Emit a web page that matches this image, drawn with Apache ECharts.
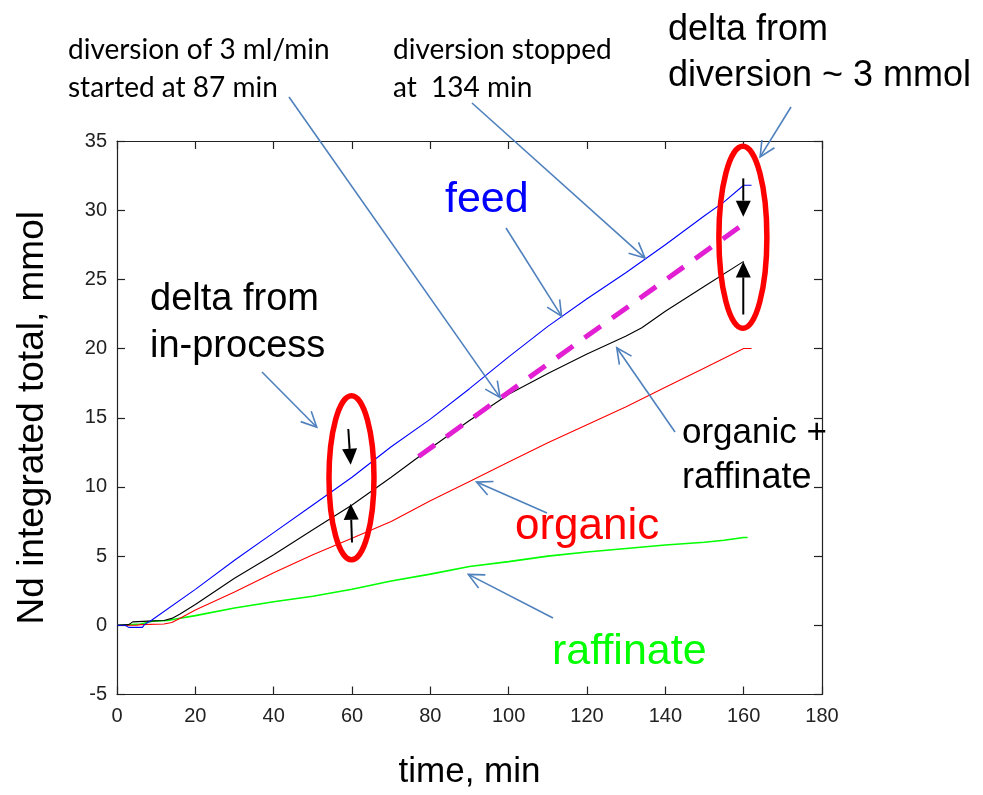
<!DOCTYPE html>
<html>
<head>
<meta charset="utf-8">
<script src="https://cdn.jsdelivr.net/npm/echarts@6/dist/echarts.min.js"></script>
<style>
  html, body { margin: 0; padding: 0; background: #fff; }
  #chart { width: 983px; height: 795px; }
</style>
</head>
<body>
<div id="chart"></div>
<script>
// Nd integrated totals (mmol) versus time (min)
const feedTime  = [0, 2, 3, 6.5, 7, 9, 20, 30, 40, 50, 60, 70, 80, 90, 100, 110, 120, 130, 140, 150, 155, 160, 162];
const feedValue = [0, 0, -0.15, -0.15, 0.05, 0.4, 2.6, 4.7, 6.7, 8.7, 10.7, 12.9, 14.9, 17.1, 19.4, 21.6, 23.6, 25.5, 27.5, 29.6, 30.6, 31.8, 31.8];

const sumTime  = [0, 3, 4, 8, 12, 14, 16, 20, 30, 40, 50, 60, 70, 80, 87, 90, 100, 110, 120, 130, 134, 140, 150, 160];
const sumValue = [0, 0.05, 0.25, 0.3, 0.35, 0.5, 0.8, 1.5, 3.4, 5.1, 6.9, 8.7, 10.7, 12.8, 14.2, 14.8, 16.7, 18.2, 19.6, 20.9, 21.5, 22.7, 24.5, 26.3];

const organicTime  = [0, 5, 6, 12, 14, 16, 20, 30, 40, 50, 60, 70, 80, 90, 100, 110, 120, 130, 140, 150, 160, 162];
const organicValue = [0, 0, 0.05, 0.1, 0.2, 0.5, 1.1, 2.4, 3.8, 5.1, 6.3, 7.5, 9.0, 10.4, 11.8, 13.2, 14.5, 15.8, 17.2, 18.6, 20.0, 20.0];

const raffTime  = [0, 6, 9, 13, 15, 20, 30, 40, 50, 60, 70, 80, 90, 100, 110, 120, 130, 140, 150, 155, 160, 161];
const raffValue = [0, 0.1, 0.3, 0.35, 0.45, 0.7, 1.25, 1.7, 2.1, 2.6, 3.2, 3.7, 4.25, 4.6, 5.0, 5.3, 5.55, 5.8, 6.0, 6.15, 6.35, 6.35];

// expected organic + raffinate without the diversion
const expectTime  = [77, 160];
const expectValue = [12.2, 29.0];

const xTicks = { min: 0, max: 180, interval: 20 };
const yTicks = { min: -5, max: 35, interval: 5 };

const pairs = (xs, ys) => xs.map((x, i) => [x, ys[i]]);

const chart = echarts.init(document.getElementById('chart'), null, { renderer: 'canvas' });

const axisLine = { show: true, onZero: false, lineStyle: { color: '#222', width: 1.2 } };
const tickStyle = { show: true, inside: true, length: 8, lineStyle: { color: '#222', width: 1.2 } };
const tickFont = { fontFamily: 'Liberation Sans', fontSize: 20, color: '#222' };

const lineSeries = (name, xs, ys, color, width) => ({
  name, type: 'line', xAxisIndex: 0, yAxisIndex: 0,
  data: pairs(xs, ys), showSymbol: false, symbol: 'none', smooth: false,
  lineStyle: { color, width }, z: 3, animation: false
});

chart.setOption({
  animation: false,
  backgroundColor: '#fff',
  grid: { left: 117, top: 141, right: 161, bottom: 98, containLabel: false },
  xAxis: [
    { type: 'value', position: 'bottom', min: xTicks.min, max: xTicks.max, interval: xTicks.interval,
      axisLine, axisTick: tickStyle, splitLine: { show: false },
      axisLabel: Object.assign({ margin: 12 }, tickFont),
      name: 'time, min', nameLocation: 'middle', nameGap: 78,
      nameTextStyle: { fontFamily: 'Liberation Sans', fontSize: 35, color: '#000', verticalAlign: 'middle' } },
    { type: 'value', position: 'top', min: xTicks.min, max: xTicks.max, interval: xTicks.interval,
      axisLine, axisTick: tickStyle, axisLabel: { show: false }, splitLine: { show: false } }
  ],
  yAxis: [
    { type: 'value', position: 'left', min: yTicks.min, max: yTicks.max, interval: yTicks.interval,
      axisLine, axisTick: tickStyle, splitLine: { show: false },
      axisLabel: Object.assign({ margin: 10 }, tickFont),
      name: 'Nd integrated total, mmol', nameLocation: 'middle', nameGap: 84, nameRotate: 90,
      nameTextStyle: { fontFamily: 'Liberation Sans', fontSize: 37, color: '#000', verticalAlign: 'middle' } },
    { type: 'value', position: 'right', min: yTicks.min, max: yTicks.max, interval: yTicks.interval,
      axisLine, axisTick: tickStyle, axisLabel: { show: false }, splitLine: { show: false } }
  ],
  series: [
    lineSeries('raffinate', raffTime, raffValue, '#00ff00', 1.6),
    lineSeries('organic', organicTime, organicValue, '#ff0000', 1.1),
    lineSeries('organic + raffinate', sumTime, sumValue, '#000000', 1.1),
    lineSeries('feed', feedTime, feedValue, '#0000ff', 1.1),
    {
      name: 'expected', type: 'line', xAxisIndex: 0, yAxisIndex: 0,
      data: pairs(expectTime, expectValue), showSymbol: false, symbol: 'none',
      lineStyle: { color: '#e21fd2', width: 5, type: [20, 14] }, z: 4, animation: false
    }
  ]
});

// ---- annotations: callout arrows, ellipses and text ----
const px = (t, v) => chart.convertToPixel({ xAxisIndex: 0, yAxisIndex: 0 }, [t, v]);
const calloutColor = '#4f81bd';
const g = [];

function openArrow(start, tip) {
  const dx = tip[0] - start[0], dy = tip[1] - start[1];
  const a = Math.atan2(dy, dx), L = 17, spread = 0.45;
  const w1 = [tip[0] - L * Math.cos(a - spread), tip[1] - L * Math.sin(a - spread)];
  const w2 = [tip[0] - L * Math.cos(a + spread), tip[1] - L * Math.sin(a + spread)];
  const st = { stroke: calloutColor, lineWidth: 1.6, fill: null };
  g.push({ type: 'line', shape: { x1: start[0], y1: start[1], x2: tip[0], y2: tip[1] }, style: st, z: 20 });
  g.push({ type: 'polyline', shape: { points: [w1, tip, w2] }, style: st, z: 20 });
}

function solidArrow(from, tip) {
  const dx = tip[0] - from[0], dy = tip[1] - from[1];
  const a = Math.atan2(dy, dx), L = 16, hw = 7.5;
  const base = [tip[0] - L * Math.cos(a), tip[1] - L * Math.sin(a)];
  const nx = -Math.sin(a), ny = Math.cos(a);
  g.push({ type: 'line', shape: { x1: from[0], y1: from[1], x2: base[0], y2: base[1] },
    style: { stroke: '#000', lineWidth: 2 }, z: 22 });
  g.push({ type: 'polygon', shape: { points: [tip, [base[0] + nx * hw, base[1] + ny * hw], [base[0] - nx * hw, base[1] - ny * hw]] },
    style: { fill: '#000' }, z: 22 });
}

function ring(t, v, rx, ry) {
  const c = px(t, v);
  g.push({ type: 'ellipse', shape: { cx: c[0], cy: c[1], rx, ry },
    style: { stroke: '#ff0000', lineWidth: 5.5, fill: null }, z: 21 });
}

function label(text, x, y, size, color, family) {
  g.push({ type: 'text', x, y, z: 25,
    style: { text, fill: color, font: size + 'px "' + family + '"', textVerticalAlign: 'middle', textAlign: 'left' } });
}

// callouts
openArrow([289, 97], px(97.8, 16.47));
openArrow([472, 103], px(134.8, 26.54));
openArrow([506, 228], px(113.5, 22.34));
openArrow([791, 107], px(164.2, 33.85));
openArrow([262, 372], px(51.0, 14.31));
openArrow([675, 432], px(127.6, 20.06));
openArrow([547, 513], px(91.8, 10.35));
openArrow([553, 618], px(89.7, 3.68));

// deltas
ring(59.87, 10.66, 22.5, 82);
ring(159.8, 28.04, 24, 91);
solidArrow(px(59.05, 14.19), px(59.66, 11.6));
solidArrow(px(60.0, 5.99), px(59.66, 8.79));
solidArrow(px(159.9, 32.3), px(159.9, 29.53));
solidArrow(px(159.9, 22.46), px(159.9, 26.3));

// text
label('diversion of 3 ml/min', 68, 50, 28, '#000', 'Lato');
label('started at 87 min', 68, 88, 28, '#000', 'Lato');
label('diversion stopped', 393, 50, 28, '#000', 'Lato');
label('at  134 min', 393, 88, 28, '#000', 'Lato');
label('delta from', 668, 30, 36, '#000', 'Liberation Sans');
label('diversion ~ 3 mmol', 668, 76, 36, '#000', 'Liberation Sans');
label('feed', 445, 200, 43, '#0000ff', 'Liberation Sans');
label('delta from', 150, 300, 38, '#000', 'Liberation Sans');
label('in-process', 150, 347, 38, '#000', 'Liberation Sans');
label('organic +', 682, 433, 35, '#000', 'Liberation Sans');
label('raffinate', 682, 478, 36, '#000', 'Liberation Sans');
label('organic', 515, 527, 44, '#ff0000', 'Liberation Sans');
label('raffinate', 552, 652, 43, '#00ff00', 'Liberation Sans');

chart.setOption({ graphic: { elements: g } });
</script>
</body>
</html>
